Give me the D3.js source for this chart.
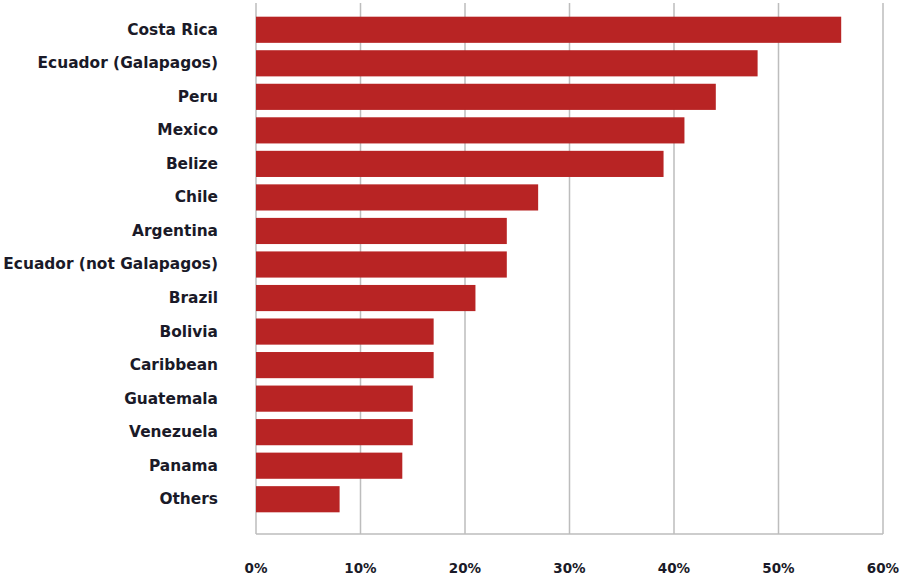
<!DOCTYPE html>
<html>
<head>
<meta charset="utf-8">
<script src="https://cdn.jsdelivr.net/npm/d3@7"></script>
<style>
  html, body { margin: 0; padding: 0; background: #fff; }
  svg { display: block; }
  .cat text, .tick-lbl { font-family: "DejaVu Sans", sans-serif; font-weight: bold; fill: #1a1a28; }
</style>
</head>
<body>
<svg id="chart" width="903" height="581"></svg>
<script>
// country / region labels, top to bottom
const categories = [
  'Costa Rica', 'Ecuador (Galapagos)', 'Peru', 'Mexico', 'Belize', 'Chile',
  'Argentina', 'Ecuador (not Galapagos)', 'Brazil', 'Bolivia', 'Caribbean',
  'Guatemala', 'Venezuela', 'Panama', 'Others'
];
// share of respondents, percent
const values = [56, 48, 44, 41, 39, 27, 24, 24, 21, 17, 17, 15, 15, 14, 8];
const ticks = [0, 10, 20, 30, 40, 50, 60];

const svg = d3.select('#chart');

const x = d3.scaleLinear().domain([0, 60]).range([256, 883]);
const y = d3.scaleBand()
  .domain(categories)
  .range([13, 516])
  .paddingInner(0.22)
  .paddingOuter(0.11);

const gridTop = 3;
const gridBase = 534;

// vertical grid lines
svg.append('g')
  .selectAll('line')
  .data(ticks)
  .join('line')
  .attr('x1', d => x(d))
  .attr('x2', d => x(d))
  .attr('y1', gridTop)
  .attr('y2', gridBase)
  .attr('stroke', '#bdbdbd')
  .attr('stroke-width', 1.5);

// baseline
svg.append('line')
  .attr('x1', x(0))
  .attr('x2', x(60))
  .attr('y1', gridBase)
  .attr('y2', gridBase)
  .attr('stroke', '#bdbdbd')
  .attr('stroke-width', 1.5);

// bars
svg.append('g')
  .selectAll('rect')
  .data(values)
  .join('rect')
  .attr('x', x(0))
  .attr('y', (d, i) => y(categories[i]))
  .attr('width', d => x(d) - x(0))
  .attr('height', y.bandwidth())
  .attr('fill', '#b82424');

// category labels
const yAxis = d3.axisLeft(y).tickSize(0).tickPadding(0);
svg.append('g')
  .attr('class', 'cat')
  .attr('transform', 'translate(218,0)')
  .call(yAxis)
  .call(g => g.select('.domain').remove())
  .selectAll('text')
  .attr('font-size', 15.4);

// x tick labels
svg.append('g')
  .selectAll('text')
  .data(ticks)
  .join('text')
  .attr('class', 'tick-lbl')
  .attr('x', d => x(d))
  .attr('y', 568)
  .attr('dy', '0.35em')
  .attr('text-anchor', 'middle')
  .attr('font-size', 13.5)
  .text(d => d + '%');
</script>
</body>
</html>
